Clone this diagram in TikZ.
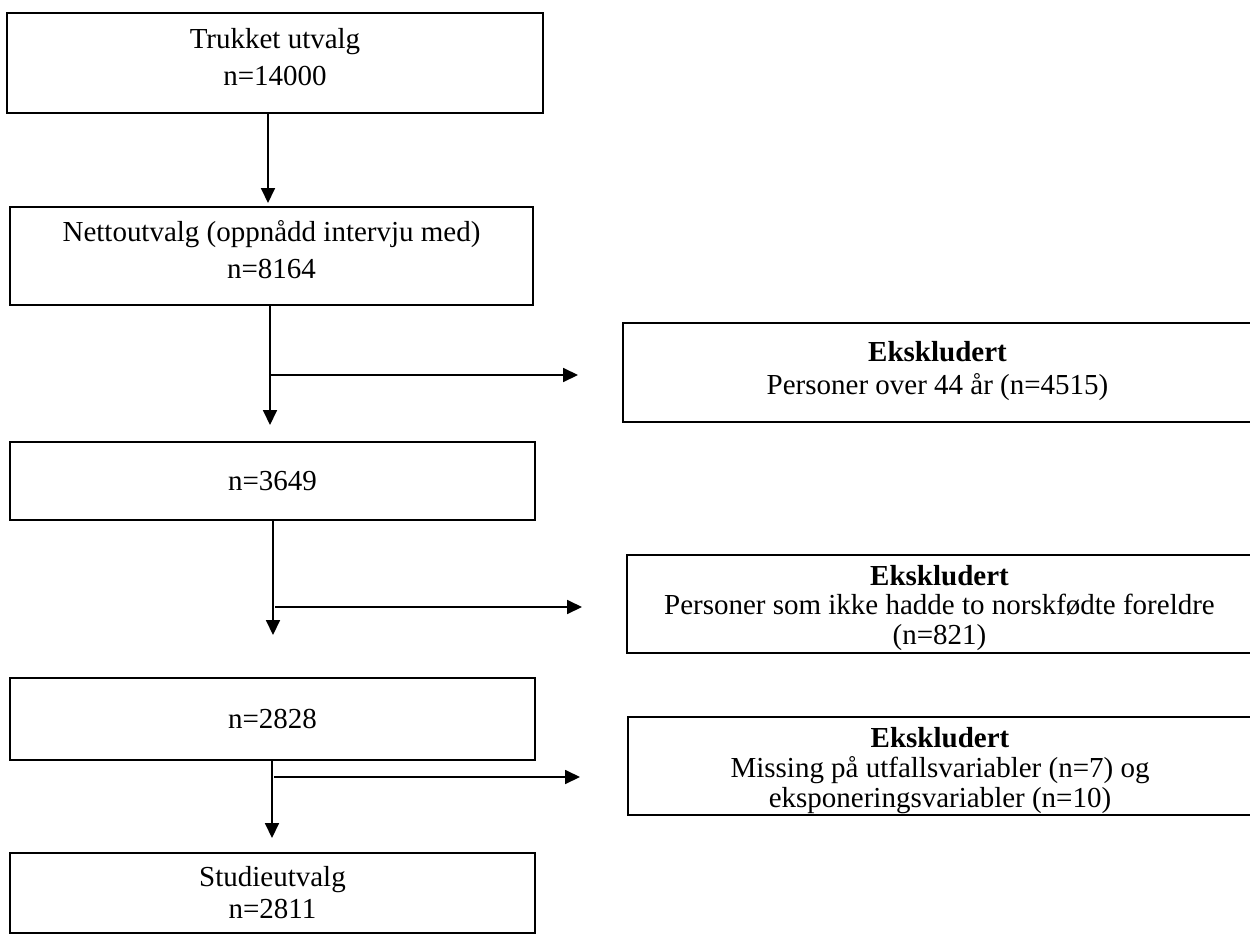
\documentclass[tikz,border=0pt]{standalone}
\usepackage{fontspec}
\setmainfont{Liberation Serif}
\usetikzlibrary{arrows.meta}

\begin{document}
\begin{tikzpicture}[x=0.02cm, y=-0.02cm,
    box/.style={draw, line width=1.4pt, inner sep=0pt, align=center,
      font=\fontsize{16.5}{21.6}\selectfont},
    eksbox/.style={box, font=\fontsize{16.5}{#1}\selectfont},
    flow/.style={-{Triangle[length=8.5pt, width=8pt]}, line width=0.8pt}]
    \clip (0,0) rectangle (1250,936);

    % Draw the main boxes
    \node[box, minimum width=10.72cm, text height=1.46cm, text depth=0.54cm] (trukket) at (275,63)
      {Trukket utvalg\\n=14000};
    \node[box, minimum width=10.46cm, text height=1.44cm, text depth=0.52cm] (netto) at (271.5,256)
      {Nettoutvalg (oppnådd intervju med)\\n=8164};
    \node[box, minimum width=10.5cm, minimum height=1.56cm] (n3649) at (272.5,481)
      {n=3649};
    \node[box, minimum width=10.5cm, minimum height=1.64cm] (n2828) at (272.5,719)
      {n=2828};
    \node[eksbox=18pt, minimum width=10.5cm, text height=1.3cm, text depth=0.3cm] (studie) at (272.5,893)
      {Studieutvalg\\n=2811};

    % Draw the exclusion boxes
    \node[eksbox=18.7pt, minimum width=12.58cm, text height=1.42cm, text depth=0.56cm] (eks1) at (937.5,372.5)
      {\textbf{Ekskludert}\\Personer over 44 år (n=4515)};
    \node[eksbox=16.6pt, minimum width=12.5cm, text height=1.78cm, text depth=0.18cm] (eks2) at (939.5,604)
      {\textbf{Ekskludert}\\Personer som ikke hadde to norskfødte foreldre\\(n=821)};
    \node[eksbox=16.8pt, minimum width=12.48cm, text height=1.8cm, text depth=0.16cm] (eks3) at (940,766)
      {\textbf{Ekskludert}\\Missing på utfallsvariabler (n=7) og\\eksponeringsvariabler (n=10)};

    % Draw the downward arrows
    \coordinate (d1) at (268,203);
    \coordinate (d2) at (270,425);
    \coordinate (d3) at (273,635);
    \coordinate (d4) at (272,838);
    \draw[flow] (trukket.south -| d1) -- (d1);
    \draw[flow] (netto.south -| d2) -- (d2);
    \draw[flow] (n3649.south -| d3) -- (d3);
    \draw[flow] (n2828.south -| d4) -- (d4);

    % Draw the arrows to the exclusion boxes
    \coordinate (s1) at (270,375);
    \coordinate (s2) at (275,607);
    \coordinate (s3) at (274,777);
    \draw[flow] (s1) -- (s1 -| 578,0);
    \draw[flow] (s2) -- (s2 -| 582,0);
    \draw[flow] (s3) -- (s3 -| 580,0);
\end{tikzpicture}
\end{document}
